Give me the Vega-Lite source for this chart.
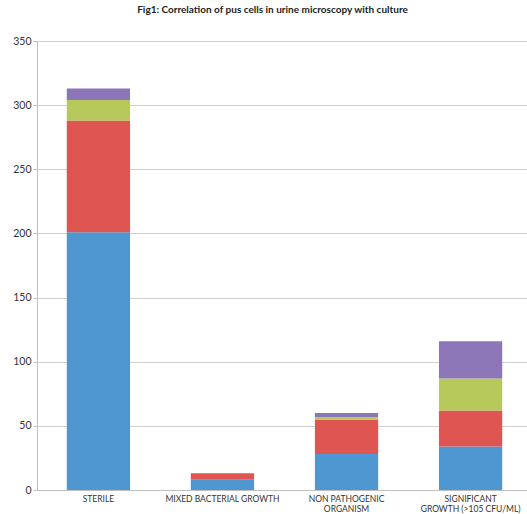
{
  "$schema": "https://vega.github.io/schema/vega-lite/v6.json",
  "autosize": {"type": "none"},
  "width": 495,
  "height": 449,
  "padding": {"left": 37, "top": 41, "right": 0, "bottom": 24},
  "background": "white",
  "title": {
    "text": "Fig1: Correlation of pus cells in urine microscopy  with culture",
    "font": "Lato",
    "fontSize": 10,
    "fontWeight": "bold",
    "color": "#222222",
    "anchor": "middle",
    "dx": -12,
    "offset": 21
  },
  "data": {
    "values": [
      {"culture": "STERILE", "pus": "0-5", "ord": 1, "count": 201},
      {"culture": "STERILE", "pus": "6-10", "ord": 2, "count": 87},
      {"culture": "STERILE", "pus": "11-20", "ord": 3, "count": 16},
      {"culture": "STERILE", "pus": ">20", "ord": 4, "count": 9},
      {"culture": "MIXED BACTERIAL GROWTH", "pus": "0-5", "ord": 1, "count": 8},
      {"culture": "MIXED BACTERIAL GROWTH", "pus": "6-10", "ord": 2, "count": 5},
      {"culture": "MIXED BACTERIAL GROWTH", "pus": "11-20", "ord": 3, "count": 0},
      {"culture": "MIXED BACTERIAL GROWTH", "pus": ">20", "ord": 4, "count": 0},
      {"culture": "NON PATHOGENIC ORGANISM", "pus": "0-5", "ord": 1, "count": 28},
      {"culture": "NON PATHOGENIC ORGANISM", "pus": "6-10", "ord": 2, "count": 27},
      {"culture": "NON PATHOGENIC ORGANISM", "pus": "11-20", "ord": 3, "count": 2},
      {"culture": "NON PATHOGENIC ORGANISM", "pus": ">20", "ord": 4, "count": 3},
      {"culture": "SIGNIFICANT GROWTH (>105 CFU/ML)", "pus": "0-5", "ord": 1, "count": 34},
      {"culture": "SIGNIFICANT GROWTH (>105 CFU/ML)", "pus": "6-10", "ord": 2, "count": 28},
      {"culture": "SIGNIFICANT GROWTH (>105 CFU/ML)", "pus": "11-20", "ord": 3, "count": 25},
      {"culture": "SIGNIFICANT GROWTH (>105 CFU/ML)", "pus": ">20", "ord": 4, "count": 29}
    ]
  },
  "mark": {"type": "bar"},
  "encoding": {
    "x": {
      "field": "culture",
      "type": "nominal",
      "sort": null,
      "scale": {"paddingInner": 0.49, "paddingOuter": 0.24},
      "axis": {
        "title": null,
        "labelAngle": 0,
        "labelFont": "Lato",
        "labelFontSize": 8.5,
        "labelColor": "#333333",
        "labelExpr": "datum.value == 'NON PATHOGENIC ORGANISM' ? ['NON PATHOGENIC', 'ORGANISM   '] : datum.value == 'SIGNIFICANT GROWTH (>105 CFU/ML)' ? ['SIGNIFICANT             ', 'GROWTH (>105 CFU/ML)'] : datum.value",
        "labelPadding": 4,
        "labelLineHeight": 10,
        "ticks": false,
        "domainColor": "#bfbfbf",
        "grid": false
      }
    },
    "y": {
      "field": "count",
      "type": "quantitative",
      "stack": "zero",
      "scale": {"domain": [0, 350]},
      "axis": {
        "title": null,
        "values": [0, 50, 100, 150, 200, 250, 300, 350],
        "labelFont": "Lato",
        "labelFontSize": 10.5,
        "labelColor": "#333333",
        "labelPadding": 2,
        "tickSize": 4,
        "tickColor": "#bfbfbf",
        "domainColor": "#bfbfbf",
        "gridColor": "#d0d0d0",
        "gridWidth": 1
      }
    },
    "color": {
      "field": "pus",
      "type": "nominal",
      "scale": {
        "domain": ["0-5", "6-10", "11-20", ">20"],
        "range": ["#4f97d1", "#df5551", "#b6c95a", "#8c76b8"]
      },
      "legend": null
    },
    "order": {"field": "ord", "type": "quantitative"}
  },
  "config": {"view": {"stroke": null}}
}
